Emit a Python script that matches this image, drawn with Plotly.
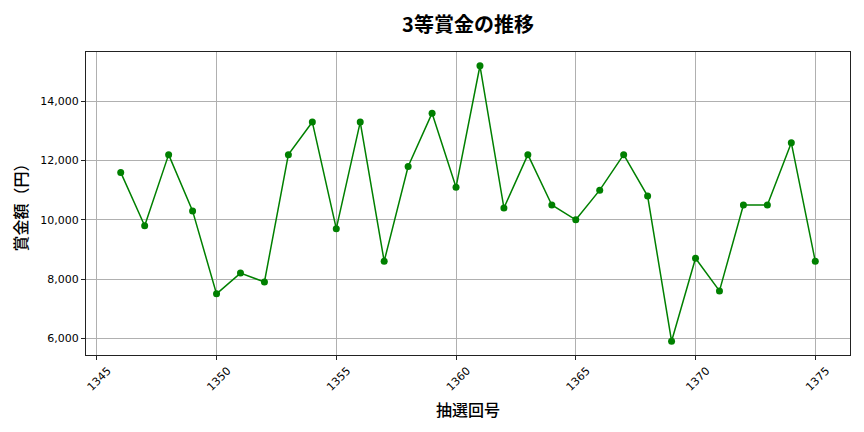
import plotly.graph_objects as go

draws = list(range(1346, 1376))
prize = [11600, 9800, 12200, 10300, 7500, 8200, 7900, 12200, 13300, 9700,
         13300, 8600, 11800, 13600, 11100, 15200, 10400, 12200, 10500, 10000,
         11000, 12200, 10800, 5900, 8700, 7600, 10500, 10500, 12600, 8600]

font = "Noto Sans CJK JP"

fig = go.Figure(go.Scatter(
    x=draws, y=prize, mode="lines+markers",
    line=dict(color="green", width=1.5),
    marker=dict(color="green", size=7),
))

axis = dict(showline=True, linecolor="#222", linewidth=1, mirror=True,
            showgrid=True, gridcolor="#b0b0b0", gridwidth=1,
            ticks="outside", ticklen=4, tickcolor="#222",
            tickfont=dict(family="DejaVu Sans", size=11, color="#000"),
            zeroline=False, automargin=False)

# page has an 8px body margin, so margins are shifted to compensate
fig.update_layout(
    width=864, height=432,
    margin=dict(l=78, r=22, t=44, b=85),
    plot_bgcolor="white", paper_bgcolor="white",
    showlegend=False,
    title=dict(text="<b>3等賞金の推移</b>", x=0.5324, xanchor="center",
               y=0.9606, yanchor="middle",
               font=dict(family=font, size=20, color="#000")),
    xaxis=dict(axis, range=[1344.55, 1376.45], dtick=5, tick0=1345,
               tickangle=-45, ticklabelshift=11,
               title=dict(text="抽選回号", standoff=12,
                          font=dict(family=font, size=16, color="#000", weight=500))),
    yaxis=dict(axis, range=[5435, 15665], dtick=2000, tickformat=",",
               title=dict(text="賞金額（円）", standoff=10,
                          font=dict(family=font, size=16, color="#000", weight=500))),
)

fig.write_html("out.html")
